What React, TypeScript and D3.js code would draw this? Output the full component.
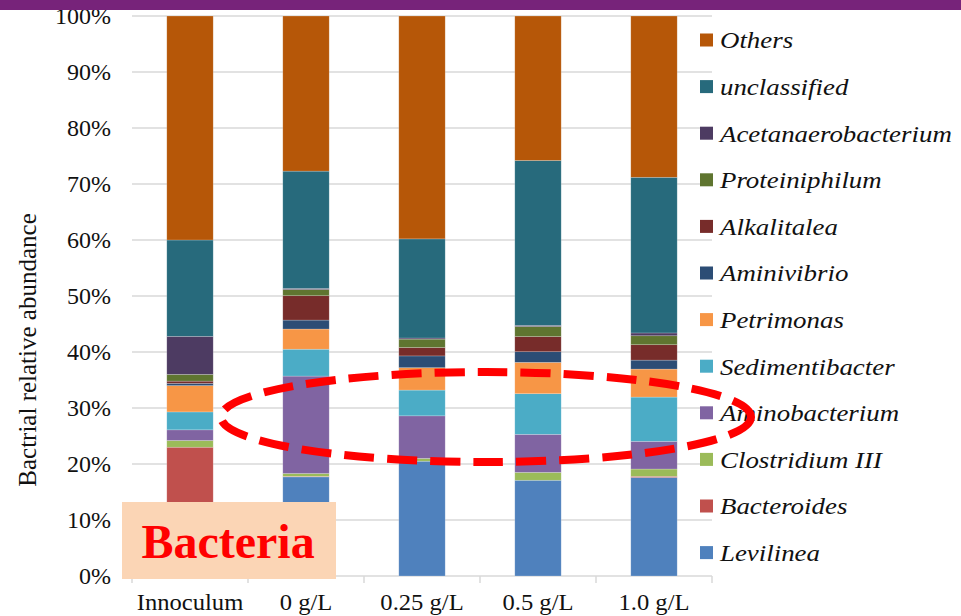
import React from "react";
import * as d3 from "d3";

const categories = ["Innoculum", "0 g/L", "0.25 g/L", "0.5 g/L", "1.0 g/L"];

// stacked bottom -> top, values in %
const Levilinea = [0, 17.7, 20.5, 17.1, 17.6];
const Bacteroides = [23.0, 0.1, 0, 0, 0.2];
const ClostridiumIII = [1.2, 0.5, 0.5, 1.4, 1.3];
const Aminobacterium = [1.9, 17.4, 7.6, 6.8, 4.95];
const Sedimentibacter = [3.2, 4.8, 4.6, 7.25, 7.9];
const Petrimonas = [4.7, 3.6, 4.0, 5.6, 5.0];
const Aminivibrio = [0.4, 1.6, 2.1, 1.9, 1.6];
const Alkalitalea = [0.4, 4.35, 1.5, 2.7, 2.75];
const Proteiniphilum = [1.2, 1.1, 1.5, 1.8, 1.6];
const Acetanaerobacterium = [6.8, 0.2, 0.2, 0.2, 0.5];
const unclassified = [17.2, 20.95, 17.7, 29.45, 27.8];
const Others = [40.0, 27.7, 39.8, 25.8, 28.8];

const seriesNames = [
  "Levilinea",
  "Bacteroides",
  "Clostridium III",
  "Aminobacterium",
  "Sedimentibacter",
  "Petrimonas",
  "Aminivibrio",
  "Alkalitalea",
  "Proteiniphilum",
  "Acetanaerobacterium",
  "unclassified",
  "Others",
];
const seriesValues = [
  Levilinea,
  Bacteroides,
  ClostridiumIII,
  Aminobacterium,
  Sedimentibacter,
  Petrimonas,
  Aminivibrio,
  Alkalitalea,
  Proteiniphilum,
  Acetanaerobacterium,
  unclassified,
  Others,
];
const seriesColors = [
  "#4F81BD",
  "#C0504D",
  "#9BBB59",
  "#8064A2",
  "#4BACC6",
  "#F79646",
  "#2C4D75",
  "#772C2A",
  "#5F7530",
  "#4D3B62",
  "#276A7C",
  "#B65708",
];

const yTicks = [0, 0.1, 0.2, 0.3, 0.4, 0.5, 0.6, 0.7, 0.8, 0.9, 1.0];

const W = 961;
const H = 616;
const SERIF = "'Liberation Serif', 'Times New Roman', serif";

export default function App() {
  const x = d3
    .scaleBand<string>()
    .domain(categories)
    .range([132, 712])
    .paddingInner(0.6)
    .paddingOuter(0.3);
  const y = d3.scaleLinear().domain([0, 1]).range([576, 16]);
  const fmt = d3.format(".0%");

  const table = categories.map((c, i) => {
    const row: any = { cat: c };
    seriesNames.forEach((s, j) => (row[s] = seriesValues[j][i] / 100));
    return row;
  });
  const stacked = d3.stack<any>().keys(seriesNames)(table);

  const step = x.step();
  const boundaries = d3.range(categories.length + 1).map((i) => 132 + i * step);

  const legendItems = seriesNames
    .map((n, i) => ({ name: n, color: seriesColors[i] }))
    .reverse();

  const ellipse = { cx: 486, cy: 417, rx: 265, ry: 45 };

  return (
    <svg
      width={W}
      height={H}
      style={{ position: "absolute", left: 0, top: 0, background: "#fff" }}
    >
      <rect x={0} y={0} width={W} height={H} fill="#fff" />
      {/* gridlines */}
      {yTicks.map((t) => (
        <line
          key={"g" + t}
          x1={132}
          x2={712}
          y1={y(t)}
          y2={y(t)}
          stroke="#d9d9d9"
          strokeWidth={1.5}
        />
      ))}
      {/* tick marks */}
      {boundaries.map((bx, i) => (
        <line
          key={"t" + i}
          x1={bx}
          x2={bx}
          y1={576}
          y2={583}
          stroke="#d9d9d9"
          strokeWidth={1.5}
        />
      ))}
      {/* bars */}
      {stacked.map((layer, j) => (
        <g key={"s" + j} fill={seriesColors[j]}>
          {layer.map((d, i) => {
            const h = y(d[0]) - y(d[1]);
            if (h <= 0) return null;
            return (
              <rect
                key={i}
                x={x(categories[i])}
                y={y(d[1])}
                width={x.bandwidth()}
                height={h}
                stroke="rgba(255,255,255,0.35)"
                strokeWidth={0.6}
              />
            );
          })}
        </g>
      ))}
      {/* y tick labels */}
      {yTicks.map((t) => (
        <text
          key={"yl" + t}
          x={111}
          y={y(t)}
          dy="0.35em"
          textAnchor="end"
          fontFamily={SERIF}
          fontSize={24}
          fill="#111"
        >
          {fmt(t)}
        </text>
      ))}
      {/* y title */}
      <text
        transform={`translate(36, 350) rotate(-90)`}
        textAnchor="middle"
        fontFamily={SERIF}
        fontSize={25}
        fill="#111"
      >
        Bactrial relative abundance
      </text>
      {/* x labels */}
      {categories.map((c) => (
        <text
          key={"xl" + c}
          transform={`translate(${(x(c) as number) + x.bandwidth() / 2}, 610) scale(1.07,1)`}
          textAnchor="middle"
          fontFamily={SERIF}
          fontSize={23}
          fill="#111"
        >
          {c}
        </text>
      ))}
      {/* legend */}
      {legendItems.map((it, i) => {
        const cy = 40 + i * 46.6;
        return (
          <g key={"lg" + i}>
            <rect x={700} y={cy - 6.5} width={13} height={13} fill={it.color} />
            <text
              transform={`translate(720, ${cy}) scale(1.12,1)`}
              dy="0.35em"
              fontFamily={SERIF}
              fontStyle="italic"
              fontSize={24}
              fill="#111"
            >
              {it.name}
            </text>
          </g>
        );
      })}
      {/* Bacteria box */}
      <rect x={122} y={502} width={214} height={77} fill="#FBD5B5" />
      <text
        x={228}
        y={558}
        textAnchor="middle"
        fontFamily={SERIF}
        fontWeight="bold"
        fontSize={48}
        fill="#FF0000"
      >
        Bacteria
      </text>
      {/* red dashed ellipse */}
      <ellipse
        cx={ellipse.cx}
        cy={ellipse.cy}
        rx={ellipse.rx}
        ry={ellipse.ry}
        fill="none"
        stroke="#FF0000"
        strokeWidth={8}
        strokeDasharray="30 13"
      />
      {/* top purple band */}
      <rect x={0} y={0} width={W} height={10} fill="#77237A" />
    </svg>
  );
}
